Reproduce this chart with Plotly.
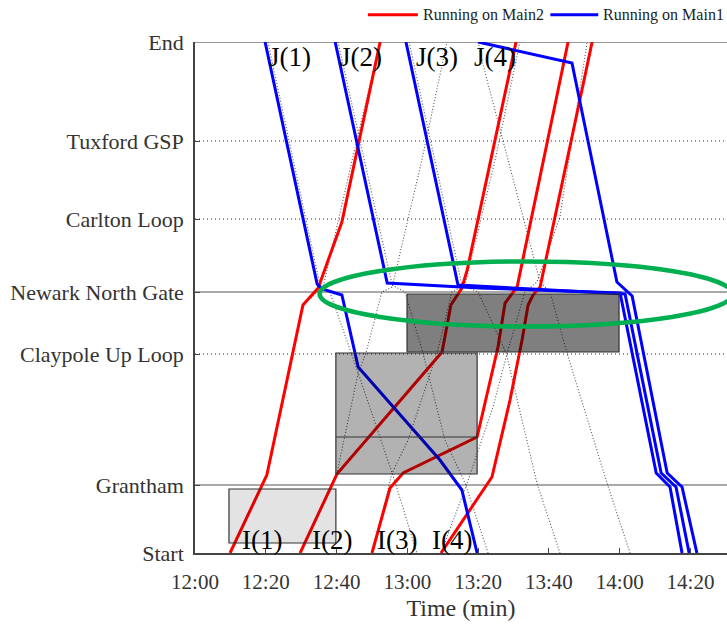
import plotly.graph_objects as go

# ---------------- data ----------------
stations = ["Start", "Grantham", "Claypole Up Loop", "Newark North Gate",
            "Carlton Loop", "Tuxford GSP", "End"]
station_km = [0, 6.8, 19.9, 26.1, 33.4, 41.2, 51.1]

tick_minutes = [0, 20, 40, 60, 80, 100, 120, 140]
tick_labels = ["12:00", "12:20", "12:40", "13:00", "13:20", "13:40", "14:00", "14:20"]

# actual running, Main2 (I trains, red)
i1_t = [9.9, 20.3, 30.5, 34.8, 41.5, 52.3]
i1_d = [0, 7.8, 24.8, 26.5, 33.1, 51.1]
i2_t = [29.7, 40.1, 69.8, 72.3, 75.4, 76.9, 90.7]
i2_d = [0, 7.9, 20.1, 24.8, 26.5, 28.3, 51.1]
i3_t = [50.0, 55.1, 58.8, 79.7, 85.6, 87.6, 91.0, 105.4]
i3_d = [0, 6.5, 8.0, 11.6, 20.6, 25.0, 26.6, 51.1]
i4_t = [69.5, 83.9, 89.0, 92.4, 94.1, 95.5, 97.5, 112.2]
i4_d = [0, 7.6, 15.3, 21.3, 24.8, 25.8, 26.6, 51.1]

# actual running, Main1 (J trains, blue)
j1_t = [19.8, 34.5, 35.9, 41.5, 46.1, 69.2, 75.4, 79.7]
j1_d = [51.1, 26.9, 26.4, 25.8, 18.6, 9.3, 6.3, 0]
j2_t = [39.6, 54.3, 80.5, 120.1, 130.3, 134.2, 137.6]
j2_d = [51.1, 27.0, 26.5, 26.0, 8.0, 6.6, 0]
j3_t = [59.6, 74.3, 121.5, 131.7, 135.9, 139.6]
j3_d = [51.1, 26.8, 25.9, 8.0, 6.6, 0]
j4_t = [80.0, 106.5, 119.2, 123.5, 133.4, 137.6, 141.8]
j4_d = [51.1, 49.0, 27.1, 25.7, 8.0, 6.6, 0]

# planned timetable (dotted)
pi1_t = [10.2, 20.3, 30.5, 34.8, 36.2, 44.4, 52.3]
pi1_d = [0, 7.8, 24.8, 26.1, 26.6, 39.3, 51.1]
pj1_t = [20.6, 35.3, 38.1, 46.1, 55.7, 62.7]
pj1_d = [51.1, 26.8, 26.1, 18.0, 8.0, 0]
pi2_t = [29.7, 40.1, 46.1, 48.3, 52.8, 55.7, 64.1, 71.2]
pi2_d = [0, 8.0, 18.0, 20.0, 26.1, 26.6, 39.3, 51.1]
pj2_t = [40.4, 55.7, 59.3, 64.4, 70.6, 76.3, 82.8]
pj2_d = [51.1, 26.8, 26.1, 20.0, 11.3, 7.0, 0]
pi3_t = [50.0, 55.7, 60.2, 68.4, 72.6, 76.3, 84.8, 91.8]
pi3_d = [0, 8.0, 11.3, 20.0, 26.1, 26.8, 39.3, 51.1]
pj3_t = [60.5, 75.4, 80.0, 87.9, 96.6, 103.1]
pj3_d = [51.1, 26.8, 26.1, 20.0, 7.0, 0]
pi4_t = [69.5, 76.9, 84.2, 88.2, 93.2, 96.6, 103.1, 110.8]
pi4_d = [0, 7.0, 14.6, 20.0, 26.1, 27.1, 33.6, 51.1]
pj4_t = [80.0, 81.4, 97.5, 100.3, 105.1, 116.4, 122.9]
pj4_d = [51.1, 48.8, 27.1, 26.1, 20.0, 7.0, 0]

# blocked sections (time start, time end, km start, km end, darkness)
block_t0 = [9.6, 39.8, 59.9]
block_t1 = [39.8, 79.7, 119.8]
block_d0 = [1.0, 7.9, 20.1]
block_d1 = [6.4, 20.0, 25.9]
block_alpha = [0.11, 0.30, 0.50]
block_split_km = 11.6

train_labels = ["J(1)", "J(2)", "J(3)", "J(4)", "I(1)", "I(2)", "I(3)", "I(4)"]
label_t = [26.9, 46.9, 68.3, 84.8, 18.9, 38.7, 57.1, 72.6]
label_d = [49.6, 49.6, 49.6, 49.6, 1.3, 1.3, 1.3, 1.3]

legend_names = ["Running on Main2", "Running on Main1"]
legend_colors = ["#ff0000", "#0000ff"]

# ---------------- figure ----------------
SERIF = "Liberation Serif, Times New Roman, serif"
fig = go.Figure()

planned = [(pi1_t, pi1_d), (pj1_t, pj1_d), (pi2_t, pi2_d), (pj2_t, pj2_d),
           (pi3_t, pi3_d), (pj3_t, pj3_d), (pi4_t, pi4_d), (pj4_t, pj4_d)]
for t, d in planned:
    fig.add_trace(go.Scatter(x=t, y=d, mode="lines", showlegend=False,
                             hoverinfo="skip",
                             line=dict(color="rgba(30,30,30,0.75)", width=1.1, dash="1px,2px")))

reds = [(i1_t, i1_d), (i2_t, i2_d), (i3_t, i3_d), (i4_t, i4_d)]
for t, d in reds:
    fig.add_trace(go.Scatter(x=t, y=d, mode="lines", name=legend_names[0],
                             showlegend=False, line=dict(color=legend_colors[0], width=3)))
blues = [(j1_t, j1_d), (j2_t, j2_d), (j3_t, j3_d), (j4_t, j4_d)]
for t, d in blues:
    fig.add_trace(go.Scatter(x=t, y=d, mode="lines", name=legend_names[1],
                             showlegend=False, line=dict(color=legend_colors[1], width=3)))

shapes = []
# station lines
styles = {"Grantham": ("solid", "#8c8c8c", 1.6),
          "Newark North Gate": ("solid", "#555555", 1.2),
          "Claypole Up Loop": ("1px,3px", "#222222", 1.2),
          "Carlton Loop": ("1px,3px", "#222222", 1.2),
          "Tuxford GSP": ("1px,3px", "#222222", 1.2),
          "End": ("solid", "#9a9a9a", 2.2)}
for name, km in zip(stations, station_km):
    if name in styles:
        dash, col, w = styles[name]
        shapes.append(dict(type="line", xref="paper", yref="y", x0=0, x1=1, y0=km, y1=km,
                           line=dict(color=col, width=w, dash=dash), layer="below"))
# blocks
for t0, t1, d0, d1, a in zip(block_t0, block_t1, block_d0, block_d1, block_alpha):
    shapes.append(dict(type="rect", xref="x", yref="y", x0=t0, x1=t1, y0=d0, y1=d1,
                       fillcolor=f"rgba(0,0,0,{a})", line=dict(color="#333333", width=1.2),
                       layer="above"))
shapes.append(dict(type="line", xref="x", yref="y", x0=block_t0[1], x1=block_t1[1],
                   y0=block_split_km, y1=block_split_km,
                   line=dict(color="#333333", width=1.2), layer="above"))
# highlight ellipse
shapes.append(dict(type="circle", xref="x", yref="y", x0=35.2, x1=151.8, y0=22.65, y1=29.15,
                   line=dict(color="#00b050", width=4.5), layer="above"))

annotations = [dict(x=t, y=d, text=s, showarrow=False, xref="x", yref="y",
                    font=dict(family=SERIF, size=27, color="black"))
               for s, t, d in zip(train_labels, label_t, label_d)]

# legend drawn in paper coordinates above the plot
leg_x0 = [0.325, 0.668]   # line start (paper fraction)
leg_x1 = [0.419, 0.758]
leg_y = 1.0535
for x0, x1, col, name in zip(leg_x0, leg_x1, legend_colors, legend_names):
    shapes.append(dict(type="line", xref="paper", yref="paper", x0=x0, x1=x1,
                       y0=leg_y, y1=leg_y, line=dict(color=col, width=3)))
    annotations.append(dict(x=x1 + 0.006, y=leg_y, xref="paper", yref="paper",
                            text=name, showarrow=False, xanchor="left", yanchor="middle",
                            font=dict(family=SERIF, size=16, color="#222222")))

fig.update_layout(
    width=727, height=627,
    margin=dict(l=195, r=0, t=42, b=74, autoexpand=False),
    paper_bgcolor="white", plot_bgcolor="white",
    shapes=shapes, annotations=annotations, showlegend=False,
    font=dict(family=SERIF, color="#333333"),
)
fig.update_xaxes(range=[0, 150.3], tickvals=tick_minutes, ticktext=tick_labels,
                 ticks="inside", ticklen=5, tickcolor="#444444", showgrid=False,
                 zeroline=False, showline=True, linecolor="#444444", linewidth=1.6,
                 automargin=False,
                 tickfont=dict(family=SERIF, size=21, color="#333333"),
                 ticklabelstandoff=9,
                 title=dict(text="Time (min)", font=dict(family=SERIF, size=24, color="#333333"),
                            standoff=6))
fig.update_yaxes(range=[0, 51.1], tickvals=station_km, ticktext=stations,
                 ticks="inside", ticklen=5, tickcolor="#444444", showgrid=False,
                 zeroline=False, showline=True, linecolor="#444444", linewidth=1.6,
                 automargin=False,
                 tickfont=dict(family=SERIF, size=22, color="#333333"),
                 ticklabelstandoff=5)

fig.write_html("out.html", config={"displayModeBar": False},
               post_script="document.body.style.margin='0px';document.body.style.overflow='hidden';")
